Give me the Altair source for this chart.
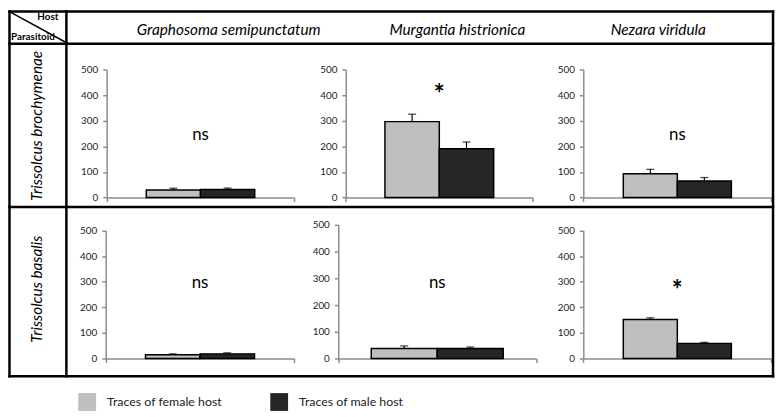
import altair as alt
import pandas as pd

# ---------------- data ----------------
hosts = ["Graphosoma semipunctatum", "Murgantia histrionica", "Nezara viridula"]
parasitoids = ["Trissolcus brochymenae", "Trissolcus basalis"]
sexes = ["Traces of female host", "Traces of male host"]
# [parasitoid row][host column]
female_mean = [[29, 297, 93], [15, 37, 152]]
female_err = [[7, 29, 17], [3, 10, 7]]
male_mean = [[31, 191, 64], [18, 37, 59]]
male_err = [[6, 26, 14], [4, 6, 4]]
signif = [["ns", "*", "ns"], ["ns", "ns", "*"]]
signif_y = [[244, 425, 244], [294, 281, 285]]
y_ticks = [0, 100, 200, 300, 400, 500]
corner_labels = ["Host", "Parasitoid"]
bar_colors = ["#BFBFBF", "#262626"]

# ---------------- layout (page pixels) ----------------
W, H = 776, 409
OX, OY = 8, 8
FONT = "Lato"
AX = "#8C8C8C"


def cx(x):
    return x - OX


def cy(y):
    return y - OY


panel_x = [[(107.7, 297.3), (349.3, 538.3), (589.3, 779.3)],
           [(106.7, 297.3), (341.7, 541.7), (589.3, 779.3)]]
panel_y = [[(197.3, 68.3), (197.3, 68.3), (197.3, 68.3)],
           [(360.0, 230.7), (360.0, 225.0), (360.0, 230.7)]]
bar_pad = [[0.73, 0.72, 0.74], [0.73, 0.50, 0.74]]

legend = alt.Legend(orient="none", legendX=cx(79), legendY=cy(395), direction="horizontal",
                    title=None, symbolType="square", symbolSize=324, symbolStrokeWidth=0,
                    labelFontSize=12.5, labelFont=FONT, labelColor="#222222", labelOffset=11,
                    columnPadding=48, labelLimit=300, padding=0)
color = alt.Color("sex:N", scale=alt.Scale(domain=sexes, range=bar_colors), legend=legend)


def panel(r, c):
    df = pd.DataFrame({
        "host": [hosts[c]] * 2,
        "sex": sexes,
        "mean": [female_mean[r][c], male_mean[r][c]],
        "hi": [female_mean[r][c] + female_err[r][c], male_mean[r][c] + male_err[r][c]],
    })
    ann = pd.DataFrame({"host": [hosts[c]], "label": [signif[r][c]], "ly": [signif_y[r][c]]})
    x0, x1 = panel_x[r][c]
    y0, y1 = panel_y[r][c]
    xs = alt.Scale(domain=[hosts[c]], range=[cx(x0), cx(x1)], paddingInner=0, paddingOuter=0)
    ys = alt.Scale(domain=[0, 500], range=[cy(y0), cy(y1)], nice=False)
    xax = alt.Axis(orient="bottom", offset=cy(y0) - H, labels=False, title=None, tickBand="extent",
                   domainColor=AX, tickColor=AX, tickSize=4, domainWidth=1.5, tickWidth=1.5, grid=False)
    yax = alt.Axis(orient="left", offset=-cx(x0), values=y_ticks, title=None, grid=False,
                   domainColor=AX, tickColor=AX, tickSize=4, domainWidth=1.5, tickWidth=1.5,
                   labelFont=FONT, labelFontSize=10, labelColor="#222222", labelPadding=5)
    X = alt.X("host:N", scale=xs, axis=xax)
    XO = alt.XOffset("sex:N", scale=alt.Scale(domain=sexes, paddingInner=0, paddingOuter=bar_pad[r][c]))
    base = alt.Chart(df)
    bars = base.mark_bar(stroke="black", strokeWidth=1.5).encode(
        x=X, xOffset=XO, y=alt.Y("mean:Q", scale=ys, axis=yax), color=color)
    err = base.mark_rule(color="black", strokeWidth=1.2).encode(
        x=X, xOffset=XO, y=alt.Y("hi:Q", scale=ys, axis=yax), y2="mean:Q")
    cap = base.mark_tick(color="black", size=8, thickness=1.3).encode(
        x=X, xOffset=XO, y=alt.Y("hi:Q", scale=ys, axis=yax))
    is_star = signif[r][c] == "*"
    txt = alt.Chart(ann).mark_text(font=FONT, fontSize=26 if is_star else 17,
                                   fontWeight="bold" if is_star else "normal",
                                   baseline="middle", dy=6 if is_star else 0, color="black").encode(
        x=X, y=alt.Y("ly:Q", scale=ys, axis=yax), text="label:N")
    return alt.layer(bars, err, cap, txt)


def hline(y, x0, x1, w=2.5):
    return alt.Chart().mark_rule(color="black", strokeWidth=w, strokeCap="square").encode(
        x=alt.value(x0), x2=alt.value(x1), y=alt.value(y))


def vline(x, y0, y1, w=2.5):
    return alt.Chart().mark_rule(color="black", strokeWidth=w, strokeCap="square").encode(
        x=alt.value(x), y=alt.value(y0), y2=alt.value(y1))


L, R, T, B = 1.5, cx(781), 1.5, cy(378)
deco = [
    hline(T, L, R), hline(B, L, R), hline(cy(42), L, R), hline(cy(207), L, R),
    vline(L, T, B), vline(R, T, B), vline(cx(67), T, B),
    alt.Chart().mark_rule(color="black", strokeWidth=1.5).encode(
        x=alt.value(L), y=alt.value(T), x2=alt.value(cx(69)), y2=alt.value(cy(42))),
    alt.Chart().mark_text(text=corner_labels[0], font=FONT, fontSize=10, fontWeight="bold",
                          align="right", baseline="alphabetic").encode(x=alt.value(cx(59)), y=alt.value(cy(18))),
    alt.Chart().mark_text(text=corner_labels[1], font=FONT, fontSize=10, fontWeight="bold",
                          align="left", baseline="alphabetic").encode(x=alt.value(3), y=alt.value(cy(38))),
]
title_x = [231, 462, 665]
for name, tx in zip(hosts, title_x):
    deco.append(alt.Chart().mark_text(text=name, font=FONT, fontSize=15.5, fontStyle="italic",
                                      align="center", baseline="middle").encode(
        x=alt.value(cx(tx)), y=alt.value(cy(28))))
row_y = [125, 290]
for name, ry in zip(parasitoids, row_y):
    deco.append(alt.Chart().mark_text(text=name, font=FONT, fontSize=15.5, fontStyle="italic", angle=270,
                                      align="center", baseline="middle").encode(
        x=alt.value(cx(37)), y=alt.value(cy(ry))))

panels = [panel(r, c) for r in range(2) for c in range(3)]
chart = alt.layer(*panels, *deco).resolve_scale(
    x="independent", y="independent", xOffset="independent"
).properties(
    width=W, height=H, padding=0, autosize=alt.AutoSizeParams(type="none")
).configure_view(stroke=None)

chart.save("out.html", embed_options={"renderer": "svg", "actions": False})
